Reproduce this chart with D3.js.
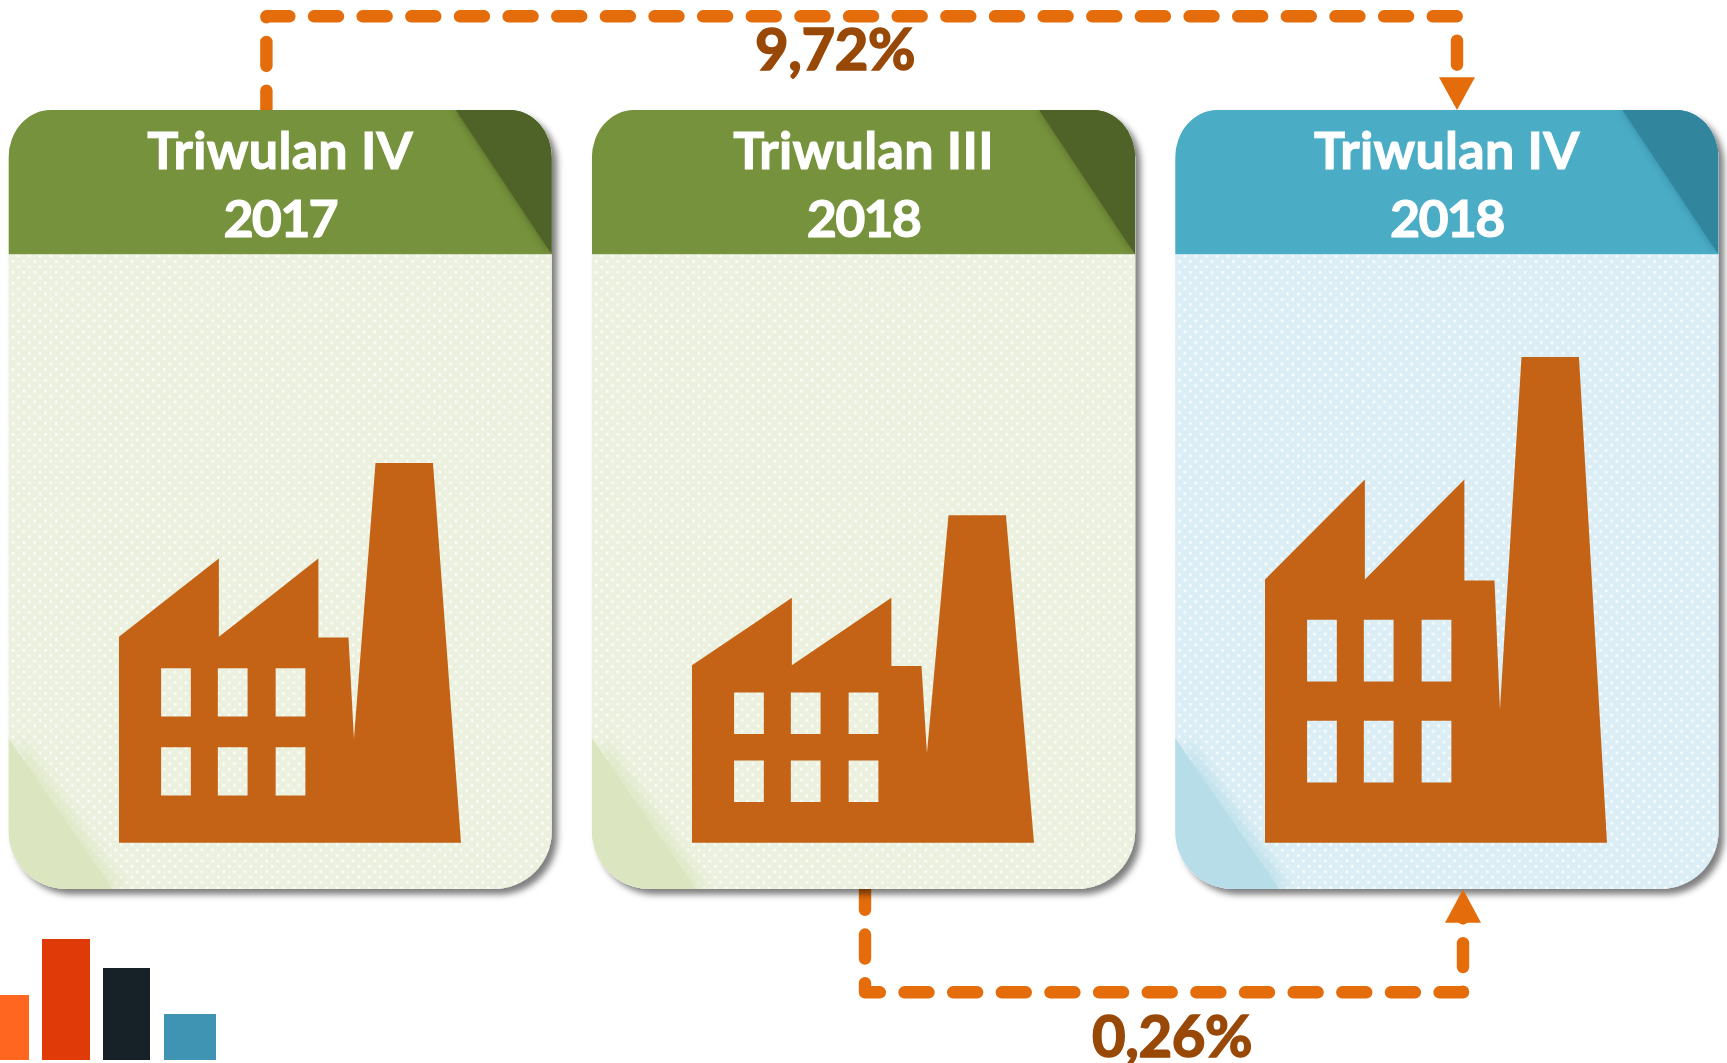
<!DOCTYPE html>
<html>
<head>
<meta charset="utf-8">
<script src="https://cdn.jsdelivr.net/npm/d3@7"></script>
<style>
  html, body { margin: 0; padding: 0; background: #fff; overflow: hidden; }
  svg { display: block; }
  text { font-family: Lato, "Open Sans", sans-serif; font-weight: 700; text-anchor: middle; }
</style>
</head>
<body>
<div id="chart"></div>
<script>
// data
const quarters = ['Triwulan IV', 'Triwulan III', 'Triwulan IV'];
const years = ['2017', '2018', '2018'];
const factoryValues = [78.2, 67.4, 100]; // relative index, read from factory heights
const changeLabels = ['9,72%', '0,26%'];
const logoValues = [65, 121, 92, 46];

// factory pictogram in unit coordinates (x right, y down from chimney top)
const outlineX = [0, 0, .292, .292, .583, .583, .671, .687, .75, .918, 1];
const outlineY = [1, .458, .252, .458, .252, .46, .46, .726, 0, 0, 1];
const windowX = [.123, .289, .458];
const windowY = [.541, .749];
const WINDOW_W = .087, WINDOW_H = .127;

const WIDTH = 1727, HEIGHT = 1063;
const CARD = { top: 110, head: 254.4, bottom: 889, rxTop: 42, ryTop: 48, rBottom: 58 };
const BASELINE = 842.7, FACTORY_TOP = 357;
const THEMES = [
  { head: '#76923c', dark: '#4f6228', body: '#ebf1de', fold: '#dbe5bf' },
  { head: '#76923c', dark: '#4f6228', body: '#ebf1de', fold: '#dbe5bf' },
  { head: '#4bacc6', dark: '#31859c', body: '#dceef5', fold: '#b7dde8' }
];
const ORANGE = '#e46c0a', FACTORY_FILL = '#c46316', PCT_FILL = '#984807';
const LOGO_COLORS = ['#ff661f', '#e03a08', '#162228', '#3f93b3'];
const LOGO_EXTRA = [0, 0, -1, 4];

const idx = d3.range(quarters.length);
const xCard = d3.scaleBand().domain(idx).range([8.5, 1718.5]).paddingInner(40 / 583).paddingOuter(0);
const xFactory = d3.scaleBand().domain(idx).range([119, 1607]).paddingInner(231 / 573).paddingOuter(0);
const yFactory = d3.scaleLinear().domain([0, d3.max(factoryValues)]).range([BASELINE, FACTORY_TOP]);
const xLogo = d3.scaleBand().domain(d3.range(logoValues.length)).range([-19, 212]).paddingInner(13 / 61).paddingOuter(0);
const yLogo = d3.scaleLinear().domain([0, d3.max(logoValues)]).range([1060, 939]);

const svg = d3.select('#chart').append('svg').attr('width', WIDTH).attr('height', HEIGHT);
const defs = svg.append('defs');

const shadow = defs.append('filter').attr('id', 'shadow')
  .attr('x', '-5%').attr('y', '-5%').attr('width', '110%').attr('height', '110%');
shadow.append('feDropShadow').attr('dx', 5.5).attr('dy', 5.5).attr('stdDeviation', 3)
  .attr('flood-color', '#000').attr('flood-opacity', .5);
defs.append('filter').attr('id', 'soft3').append('feGaussianBlur').attr('stdDeviation', 3);
defs.append('filter').attr('id', 'soft6').append('feGaussianBlur').attr('stdDeviation', 6);

const pattern = defs.append('pattern').attr('id', 'dots')
  .attr('patternUnits', 'userSpaceOnUse').attr('width', 10.8).attr('height', 10.8);
pattern.append('rect').attr('x', 1).attr('y', 1).attr('width', 2.6).attr('height', 2.6).attr('fill', '#fff').attr('fill-opacity', .85);
pattern.append('rect').attr('x', 6.4).attr('y', 6.4).attr('width', 2.6).attr('height', 2.6).attr('fill', '#fff').attr('fill-opacity', .85);

function cardPath(x, w) {
  const r = x + w, t = CARD.top, b = CARD.bottom;
  return `M${x + CARD.rxTop},${t}H${r - CARD.rxTop}`
    + `A${CARD.rxTop},${CARD.ryTop} 0 0 1 ${r},${t + CARD.ryTop}`
    + `V${b - CARD.rBottom}A${CARD.rBottom},${CARD.rBottom} 0 0 1 ${r - CARD.rBottom},${b}`
    + `H${x + CARD.rBottom}A${CARD.rBottom},${CARD.rBottom} 0 0 1 ${x},${b - CARD.rBottom}`
    + `V${t + CARD.ryTop}A${CARD.rxTop},${CARD.ryTop} 0 0 1 ${x + CARD.rxTop},${t}Z`;
}

// dashed connectors sit under the cards, so the card shadow falls over them
const connectors = svg.append('g').attr('fill', 'none').attr('stroke', ORANGE)
  .attr('stroke-width', 12.4).attr('stroke-linecap', 'round').attr('stroke-linejoin', 'round')
  .attr('stroke-dasharray', '24 24.64');
connectors.append('path').attr('d', 'M266.4,114.6V16.3H1457V95');
connectors.append('path').attr('d', 'M865,885.9V992.3H1463V905');

const w = xCard.bandwidth();
const cards = svg.selectAll('.card').data(idx).enter().append('g').attr('class', 'card');

cards.each(function (i) {
  const g = d3.select(this), x = xCard(i), th = THEMES[i], r = x + w;
  const clipId = 'clip' + i;
  defs.append('clipPath').attr('id', clipId).append('path').attr('d', cardPath(x, w));

  g.append('path').attr('d', cardPath(x, w)).attr('fill', th.body).attr('filter', 'url(#shadow)');
  const inner = g.append('g').attr('clip-path', `url(#${clipId})`);
  inner.append('rect').attr('x', x).attr('y', CARD.head).attr('width', w).attr('height', CARD.bottom - CARD.head)
    .attr('fill', 'url(#dots)');

  // folded corner, bottom left
  const foldPts = [[x, 738], [x + 104, CARD.bottom], [x, CARD.bottom]];
  inner.append('polygon').attr('points', foldPts.map(p => [p[0] + 12, p[1]]).join(' '))
    .attr('fill', th.fold).attr('opacity', .7).attr('filter', 'url(#soft6)');
  inner.append('polygon').attr('points', foldPts.join(' ')).attr('fill', th.fold);

  // header band and its dark corner
  inner.append('rect').attr('x', x).attr('y', CARD.top).attr('width', w).attr('height', CARD.head - CARD.top).attr('fill', th.head);
  const headClip = 'headclip' + i;
  defs.append('clipPath').attr('id', headClip).append('rect')
    .attr('x', x).attr('y', CARD.top).attr('width', w).attr('height', CARD.head - CARD.top);
  const cornerPts = [[r - 96, CARD.top], [r, CARD.top], [r, CARD.head]];
  inner.append('g').attr('clip-path', `url(#${headClip})`).append('polygon')
    .attr('points', cornerPts.map(p => [p[0] - 2, p[1]]).join(' '))
    .attr('fill', th.dark).attr('opacity', .6).attr('filter', 'url(#soft3)');
  inner.append('polygon').attr('points', cornerPts.join(' ')).attr('fill', th.dark);
  inner.append('rect').attr('x', x).attr('y', CARD.head - .5).attr('width', w).attr('height', 1.5)
    .attr('fill', '#fff').attr('opacity', .35);

  g.append('text').attr('x', x + w / 2).attr('y', 169).attr('fill', '#fff').attr('stroke', '#fff').attr('stroke-width', 1.1)
    .attr('font-size', 52).style('letter-spacing', '.3px').text(quarters[i]);
  g.append('text').attr('x', x + w / 2).attr('y', 237.3).attr('fill', '#fff').attr('stroke', '#fff').attr('stroke-width', 1.1)
    .attr('font-size', 52).style('letter-spacing', '-1.8px').text(years[i]);

  // factory scaled to its value
  const fx = d3.scaleLinear().domain([0, 1]).range([xFactory(i), xFactory(i) + xFactory.bandwidth()]);
  const fy = d3.scaleLinear().domain([1, 0]).range([BASELINE, yFactory(factoryValues[i])]);
  let d = 'M' + outlineX.map((ux, k) => fx(ux) + ',' + fy(outlineY[k])).join('L') + 'Z';
  windowY.forEach(wy => windowX.forEach(wx => {
    d += `M${fx(wx)},${fy(wy)}H${fx(wx + WINDOW_W)}V${fy(wy + WINDOW_H)}H${fx(wx)}Z`;
  }));
  g.append('path').attr('d', d).attr('fill', FACTORY_FILL).attr('fill-rule', 'evenodd');
});

// arrow heads
svg.append('polygon').attr('points', '1439,77.3 1475,77.3 1457,110').attr('fill', ORANGE);
svg.append('polygon').attr('points', '1445,922.7 1481,922.7 1463,889.3').attr('fill', ORANGE);

// change labels
const labelPos = [[835, 70], [1172, 1056.7]];
svg.selectAll('.pct').data(changeLabels).enter().append('text').attr('class', 'pct')
  .attr('x', (d, i) => labelPos[i][0]).attr('y', (d, i) => labelPos[i][1])
  .attr('fill', PCT_FILL).attr('stroke', PCT_FILL).attr('stroke-width', 1.6)
  .attr('font-size', 58).style('letter-spacing', '-.4px').text(d => d);

// small bar logo, bottom left
svg.selectAll('.logo').data(logoValues).enter().append('rect').attr('class', 'logo')
  .attr('x', (d, i) => xLogo(i)).attr('y', d => yLogo(d))
  .attr('width', (d, i) => xLogo.bandwidth() + LOGO_EXTRA[i])
  .attr('height', d => yLogo(0) - yLogo(d))
  .attr('fill', (d, i) => LOGO_COLORS[i]);
</script>
</body>
</html>
